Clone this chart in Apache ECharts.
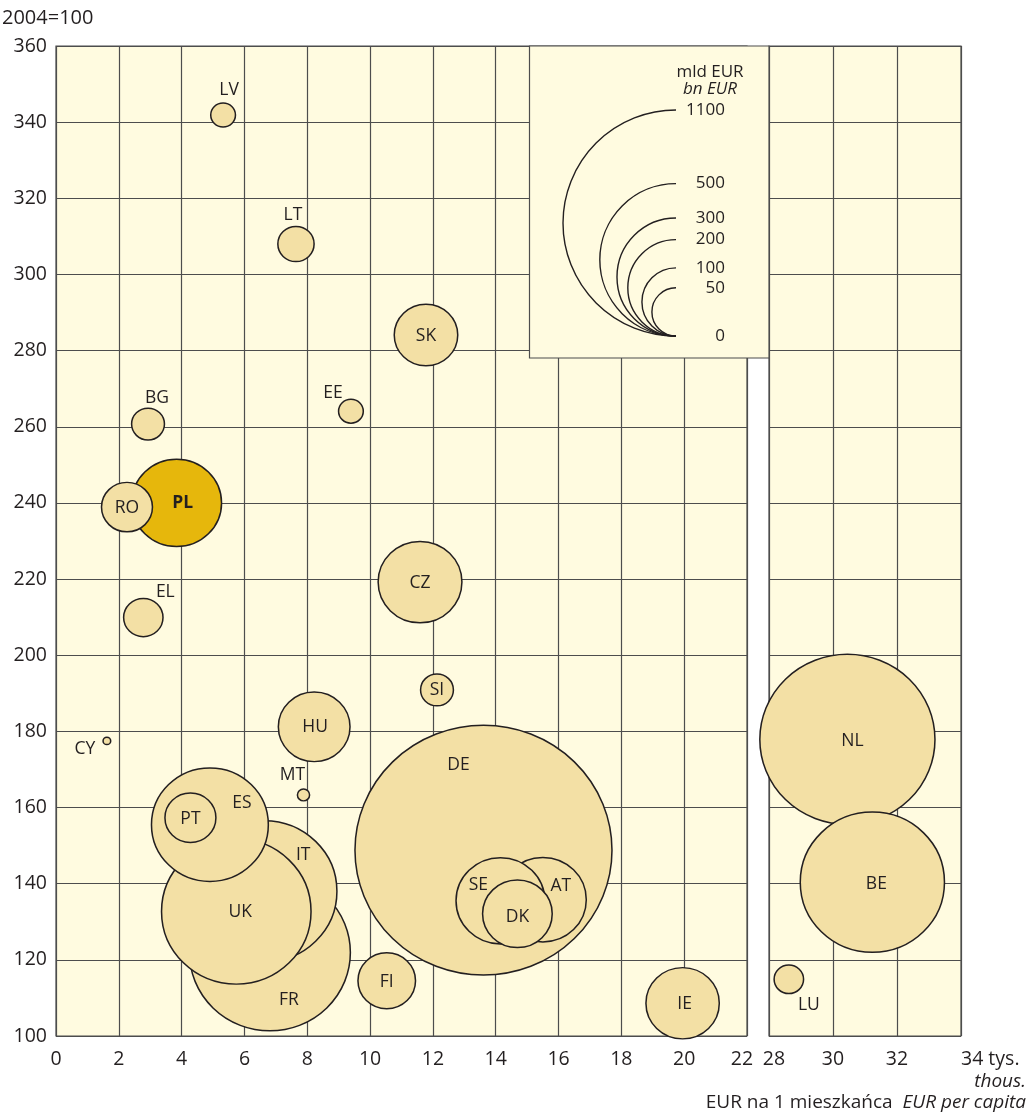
<!DOCTYPE html>
<html><head><meta charset="utf-8">
<script src="https://cdn.jsdelivr.net/npm/echarts@6/dist/echarts.min.js"></script>
<style>html,body{margin:0;padding:0;background:#fff}#c{width:1030px;height:1112px}</style>
</head><body><div id="c"></div>
<script>
// ---- data (drawing order = stacking order) ----
const countries  = ['DE','FR','IT','UK','ES','PT','AT','SE','DK','NL','BE','LU','FI','IE','PL','RO','CZ','HU','SK','SI','BG','EL','EE','LT','LV','MT','CY'];
const perCapita  = [13.61,6.81,6.63,5.74,4.90,4.28,15.50,14.15,14.69,30.45,31.23,28.62,10.53,19.95,3.84,2.26,11.59,8.22,11.78,12.13,2.93,2.78,9.39,7.64,5.32,7.88,1.62]; // thous. EUR per capita
const index2004  = [148.8,121.9,138.0,132.7,155.5,157.3,135.8,135.5,132.1,177.9,140.4,114.9,114.5,108.6,240.0,238.9,219.2,181.2,284.1,190.9,260.7,209.9,264.1,308.0,341.9,163.3,177.5]; // 2004=100
const volumeBn   = [1360,537,439,464,285,56,159,166,103,635,432,19.5,71,114,170,56,148,109,86,24,24,34,14,29,14,3.8,1.7]; // bn EUR
const legendValues = [1100,500,300,200,100,50];
const xTicksBreak = {leftMax:22, rightMin:28};

// ---- styling ----
const KX = 7.01, KY = 6.814;           // px per sqrt(bn EUR) (diameter)
const FONT = "'Open Sans', 'Noto Sans', sans-serif";
const TXT = '#231f20', LINE = '#231f20', GRIDC = '#4d4d4d';
const BG = '#fffbe0', FILL = '#f3e0a5', PLFILL = '#e6b70c';
const labelOffset = {LV:[6,-25],LT:[-3,-29],SK:[0,1],EE:[-18,-18],BG:[9,-26],PL:[6,0],RO:[0,1],EL:[22,-26],CY:[-22,8],
  CZ:[0,1],SI:[0,0],HU:[1,0],MT:[-11,-20],ES:[32,-22],PT:[0,1],IT:[39,-36],UK:[4,1],FR:[19,47],DE:[-25,-85],
  SE:[-22,-16],AT:[18,-14],DK:[0,3],FI:[0,1],IE:[2,1],NL:[5,2],BE:[4,2],LU:[20,26]};

function item(i){
  const n = countries[i];
  const o = {name:n, value:[perCapita[i], index2004[i], volumeBn[i]], label:{offset:labelOffset[n]||[0,0]}};
  if (n === 'PL') { o.itemStyle = {color: PLFILL}; o.label.fontWeight = 'bold'; }
  return o;
}
const leftData = [], rightData = [];
countries.forEach((c,i)=>{ (perCapita[i] > xTicksBreak.leftMax ? rightData : leftData).push(item(i)); });

const symSize = v => [Math.max(KX*Math.sqrt(v[2]) - 1.5, 4), Math.max(KY*Math.sqrt(v[2]) - 1.5, 4)];
const seriesBase = {
  type:'scatter', symbol:'circle', symbolSize: symSize, clip:false,
  itemStyle:{color:FILL, borderColor:LINE, borderWidth:1.5, opacity:1},
  label:{show:true, position:'inside', formatter:'{b}', color:TXT, fontSize:17.5, fontFamily:FONT},
  emphasis:{disabled:true}, animation:false
};

const gridBase = {top:46, height:990, show:true, backgroundColor:BG, borderColor:GRIDC, borderWidth:1.2, containLabel:false};
const split = {show:true, lineStyle:{color:GRIDC, width:1.2}};
const lab = {color:TXT, fontSize:19.5, fontFamily:FONT};

// ---- legend graphics (sizes from same scale) ----
const tanX = 676, tanY = 336;
const graphics = [
  {type:'text', x:2, y:18, style:{text:'2004=100', font:'20px '+FONT, fill:TXT, verticalAlign:'middle'}},
  {type:'rect', z:50, shape:{x:529.5, y:46, width:239.5, height:312}, style:{fill:BG, stroke:GRIDC, lineWidth:1.2}},
  {type:'text', z:51, x:710, y:72, style:{text:'mld EUR', font:'17px '+FONT, fill:TXT, align:'center', verticalAlign:'middle'}},
  {type:'text', z:51, x:710, y:89, style:{text:'bn EUR', font:'italic 17px '+FONT, fill:TXT, align:'center', verticalAlign:'middle'}},
  {type:'text', z:51, x:725, y:tanY, style:{text:'0', font:'17px '+FONT, fill:TXT, align:'right', verticalAlign:'middle'}},
  {type:'text', x:1026, y:1082, style:{text:'thous.', font:'italic 19px '+FONT, fill:TXT, align:'right', verticalAlign:'middle'}},
  {type:'text', x:1026, y:1103, style:{text:'EUR na 1 mieszkańca  {i|EUR per capita}', font:'19px '+FONT, fill:TXT, align:'right', verticalAlign:'middle',
     rich:{i:{fontStyle:'italic', fontSize:19, fontFamily:FONT, fill:TXT}}}}
];
legendValues.forEach(v=>{
  const r = KY*Math.sqrt(v)/2;
  graphics.push({type:'arc', z:51, shape:{cx:tanX, cy:tanY - r, r:r, startAngle:Math.PI/2, endAngle:Math.PI*1.5, clockwise:true},
    style:{fill:null, stroke:LINE, lineWidth:1.4}});
  graphics.push({type:'text', z:51, x:725, y:tanY - 2*r, style:{text:String(v), font:'17px '+FONT, fill:TXT, align:'right', verticalAlign:'middle'}});
});

const option = {
  backgroundColor:'#ffffff',
  animation:false,
  textStyle:{fontFamily:FONT},
  grid:[Object.assign({left:56, width:691}, gridBase), Object.assign({left:769, width:192}, gridBase)],
  xAxis:[
    {type:'value', gridIndex:0, min:0, max:22, interval:2, axisLine:{show:false}, axisTick:{show:false}, splitLine:split,
     axisLabel:Object.assign({margin:13, formatter:v => v===22 ? '{r|22}' : String(v),
       rich:{r:{padding:[0,10,0,0], fontSize:19.5, fontFamily:FONT, color:TXT}}}, lab)},
    {type:'value', gridIndex:1, min:28, max:34, interval:2, axisLine:{show:false}, axisTick:{show:false}, splitLine:split,
     axisLabel:Object.assign({margin:13, alignMaxLabel:'left', formatter:v => v===28 ? '{l|28}' : (v===34 ? '34 tys.' : String(v)),
       rich:{l:{padding:[0,0,0,10], fontSize:19.5, fontFamily:FONT, color:TXT}}}, lab)}
  ],
  yAxis:[
    {type:'value', gridIndex:0, min:100, max:360, interval:20, axisLine:{show:false}, axisTick:{show:false}, splitLine:split,
     axisLabel:Object.assign({margin:9, padding:[7,0,0,0]}, lab)},
    {type:'value', gridIndex:1, min:100, max:360, interval:20, axisLine:{show:false}, axisTick:{show:false}, splitLine:split,
     axisLabel:{show:false}}
  ],
  series:[
    Object.assign({xAxisIndex:0, yAxisIndex:0, data:leftData}, seriesBase),
    Object.assign({xAxisIndex:1, yAxisIndex:1, data:rightData}, seriesBase)
  ],
  graphic:{elements:graphics}
};
const chart = echarts.init(document.getElementById('c'), null, {renderer:'canvas'});
chart.setOption(option);
</script>
</body></html>
